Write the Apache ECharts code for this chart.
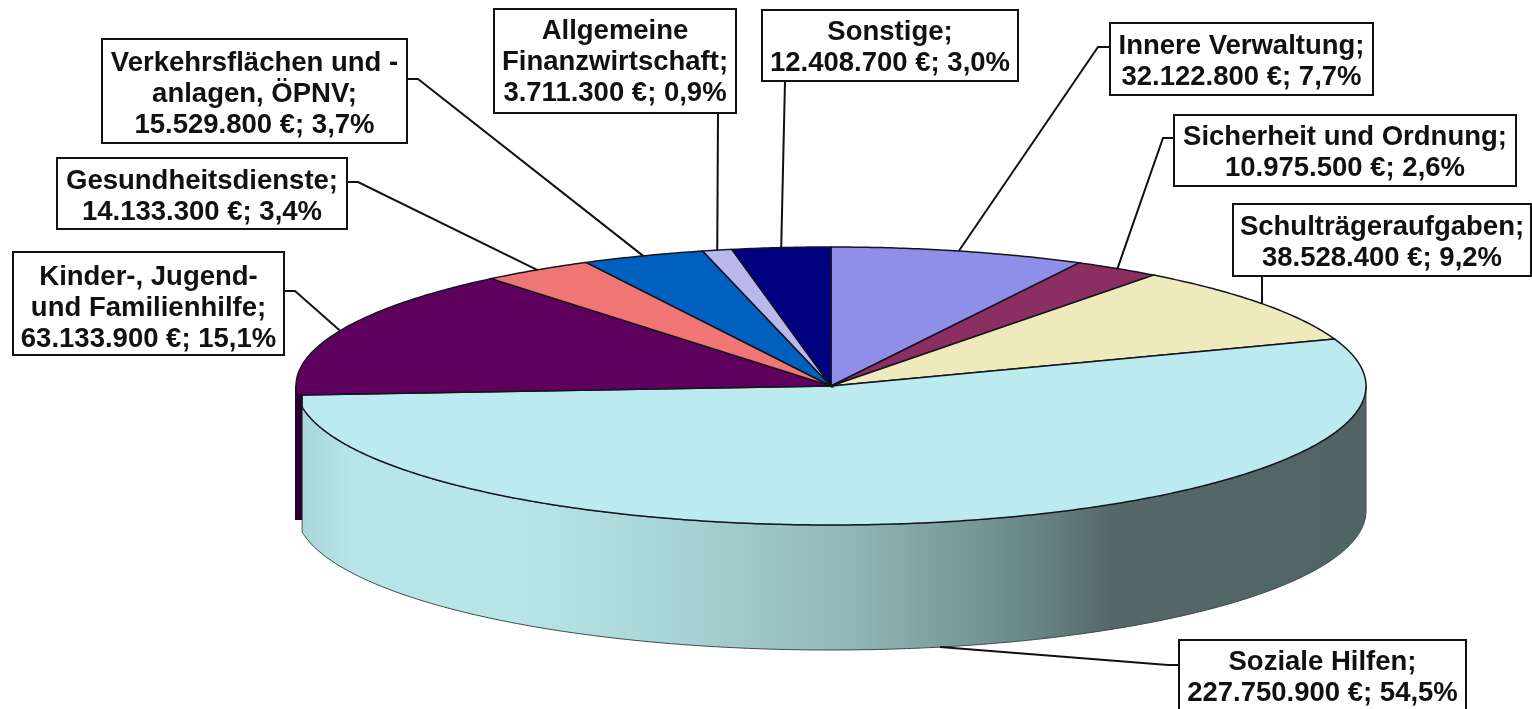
<!DOCTYPE html>
<html><head><meta charset="utf-8">
<style>html,body{margin:0;padding:0;background:#fff;overflow:hidden}#c{width:1532px;height:709px}</style>
<script src="https://cdn.jsdelivr.net/npm/echarts@6/dist/echarts.min.js"></script>
</head><body><div id="c"></div>
<script>
// ---- data, clockwise from 12 o'clock ----
const categories = ['Innere Verwaltung;','Sicherheit und Ordnung;','Schulträgeraufgaben;','Soziale Hilfen;','Kinder-, Jugend-\nund Familienhilfe;','Gesundheitsdienste;','Verkehrsflächen und -\nanlagen, ÖPNV;','Allgemeine\nFinanzwirtschaft;','Sonstige;'];
const values = [32122800,10975500,38528400,227750900,63133900,14133300,15529800,3711300,12408700];
const percentLabels = ['7,7%','2,6%','9,2%','54,5%','15,1%','3,4%','3,7%','0,9%','3,0%'];
// ---- styles and layout ----
const colors = ['#8F8FEA','#8B2E62','#EEEABB','#BBEBEE','#5F005F','#F07676','#0060C0','#B8B8EC','#000080'];
const wallColors = {4:'#2C002E'};
const geom = {cx:831, cy:386, rx:535, ry:139, depth:125, rimInset:5};
const boxes = [[1110,23,263,72],[1174,115,342,71],[1233,204,298,72],[1179,640,287,80],[13,252,271,103],[57,158,290,71],[102,39,305,104],[494,9,242,104],[762,10,256,71]];
const textCentres = [61.5,152.5,242.5,678,308,196.5,94,62,48];
// leader start on the box edge, then elbow (null = straight)
const leaders = [[[1110,47],[1098,47]],[[1174,138],[1163,138]],[[1262,276],null],[[1179,665],[1168,665]],[[284,291],[295,291]],[[347,182],[358,182]],[[407,79],[418,79]],[[718,113],null],[[785,81],null]];

const total = values.reduce((a,b)=>a+b,0);
const starts = []; values.reduce((acc,v,i)=>{starts[i]=acc; return acc+v;},0);
const ang = v => v/total*360;
const pt = (deg,dy=0) => { const r=deg*Math.PI/180; return [geom.cx+geom.rx*Math.sin(r), geom.cy-geom.ry*Math.cos(r)+dy]; };
const arc = (a,b,dy=0) => { const n=Math.max(2,Math.ceil(Math.abs(b-a)*2)), p=[]; for(let i=0;i<=n;i++) p.push(pt(a+(b-a)*i/n,dy)); return p; };
const fmt = v => String(v).replace(/\B(?=(\d{3})+$)/g,'.');
const rows = values.map((v,i)=>({value:[ang(starts[i]),ang(starts[i]+v),i], name:categories[i]}));
const largest = values.indexOf(Math.max.apply(null,values));
const seamAngle = ang(starts[largest]+values[largest]);
const seam = pt(seamAngle);
const insetX = seam[0]+geom.rimInset;
const inset = pts => pts.map(p=>[Math.max(p[0],insetX),p[1]]);

function renderWall(params, api){
  const a=Math.max(api.value(0),90), b=Math.min(api.value(1),270), i=api.value(2);
  if(b<=a) return {type:'group',children:[]};
  if(i===largest){
    const fill = new echarts.graphic.LinearGradient(0,0,1,0,[
      {offset:0,color:'#A9D6D8'},{offset:0.05,color:'#B8E6E8'},{offset:0.2,color:'#B8E6E8'},{offset:0.33,color:'#ABD6D7'},
      {offset:0.5,color:'#94BBBC'},{offset:0.6,color:'#7F9F9F'},{offset:0.68,color:'#6B8888'},{offset:0.76,color:'#556868'},{offset:1,color:'#516464'}
    ]);
    return {type:'polygon',shape:{points:inset(arc(a,b).concat(arc(b,a,geom.depth)))},style:{fill,stroke:'#3a4a4a',lineWidth:1}};
  }
  // the slice next to the seam shows only as a narrow dark strip at the far left
  const left=pt(270)[0]-1, y0=pt(270)[1], y1=seam[1]+geom.depth;
  return {type:'polygon',shape:{points:[[left,y0],[insetX,y0],[insetX,y1],[left,y1]]},style:{fill:wallColors[i]||colors[i]}};
}
function renderSlice(params, api){
  const a=api.value(0), b=api.value(1), i=api.value(2);
  let pts=[[geom.cx,geom.cy]].concat(arc(a,b));
  if(i===largest) pts=inset(pts);
  return {type:'polygon',shape:{points:pts},style:{fill:colors[i],stroke:'#15151f',lineWidth:1.5}};
}
function renderCallout(params, api){
  const i=api.value(2), mid=(api.value(0)+api.value(1))/2;
  const front = mid>90 && mid<270;
  const end = pt(mid, front?geom.depth:0);
  const [s,e]=leaders[i], line=e?[s,e,end]:[s,end];
  const [x,y,w,h]=boxes[i];
  return {type:'group',children:[
    {type:'polyline',shape:{points:line},style:{fill:null,stroke:'#111',lineWidth:2}},
    {type:'rect',shape:{x,y,width:w,height:h},style:{fill:'#fff',stroke:'#111',lineWidth:2}},
    {type:'text',style:{x:x+w/2,y:textCentres[i],text:categories[i]+'\n'+fmt(values[i])+' €; '+percentLabels[i],
      align:'center',verticalAlign:'middle',font:'bold 27.5px "Liberation Sans", Arial, sans-serif',lineHeight:31,fill:'#111'}}
  ]};
}
const chart = echarts.init(document.getElementById('c'),null,{renderer:'canvas'});
const base = {type:'custom',coordinateSystem:'none',data:rows,silent:true,animation:false,clip:false};
chart.setOption({
  backgroundColor:'#fff',animation:false,
  series:[
    Object.assign({},base,{name:'wall',renderItem:renderWall,z:1}),
    Object.assign({},base,{name:'slices',renderItem:renderSlice,z:2}),
    Object.assign({},base,{name:'labels',renderItem:renderCallout,z:3})
  ]
});
</script></body></html>
